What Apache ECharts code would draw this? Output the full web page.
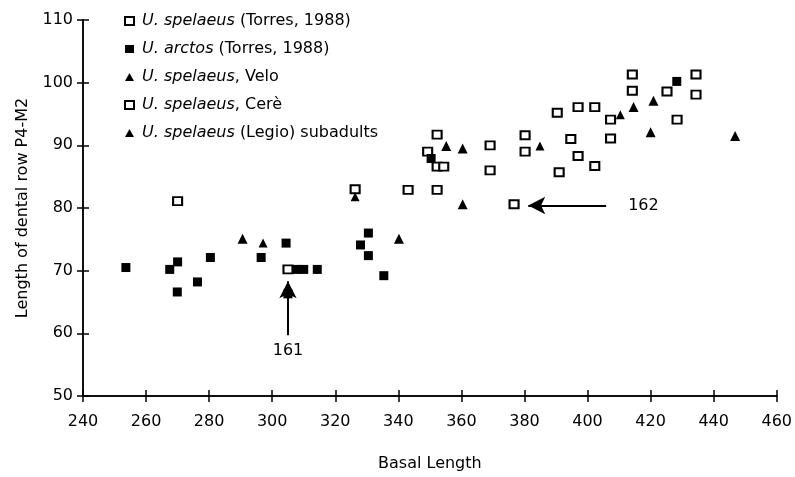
<!DOCTYPE html>
<html>
<head>
<meta charset="utf-8">
<script src="https://cdn.jsdelivr.net/npm/echarts@6/dist/echarts.min.js"></script>
<style>
  html, body { margin: 0; padding: 0; background: #fff; }
  #main { width: 795px; height: 477px; }
</style>
</head>
<body>
<div id="main"></div>
<script>
// basal length (x), length of dental row P4-M2 (y)
var spelaeusTorres = [
  [343.1, 82.9], [352.3, 82.9], [352.3, 91.7], [349.3, 89.0], [352.3, 86.6],
  [354.4, 86.6], [369.1, 90.0], [369.1, 86.0], [380.2, 91.6], [380.2, 89.0],
  [390.4, 95.2], [394.7, 91.0], [397.0, 96.1], [397.0, 88.3], [391.0, 85.7],
  [402.3, 96.1], [402.3, 86.7], [407.3, 94.1], [407.3, 91.1], [414.2, 101.3],
  [414.2, 98.7], [425.2, 98.6], [428.4, 94.1], [434.4, 101.3], [434.4, 98.1]
];
var arctosTorres = [
  [253.6, 70.5], [267.5, 70.2], [270.0, 71.4], [269.9, 66.6], [276.3, 68.2],
  [280.4, 72.1], [296.5, 72.1], [304.4, 74.4], [307.9, 70.2], [310.0, 70.2],
  [314.3, 70.2], [305.0, 66.3], [330.5, 76.0], [328.0, 74.1], [330.5, 72.4],
  [335.4, 69.2], [350.4, 87.9], [428.3, 100.2]
];
var spelaeusVelo = [
  [290.6, 75.1], [340.2, 75.1], [355.2, 89.9], [360.4, 89.5], [360.4, 80.6],
  [414.6, 96.1], [420.9, 97.1], [420.0, 92.1], [446.8, 91.5]
];
var spelaeusCere = [
  [270.0, 81.1], [305.0, 70.2], [376.7, 80.6], [326.3, 83.0]
];
var legioSubadults = [
  [297.1, 74.4], [326.3, 81.8], [384.9, 89.9], [410.4, 94.9]
];
var seriesNames = [
  'U. spelaeus (Torres, 1988)',
  'U. arctos (Torres, 1988)',
  'U. spelaeus, Velo',
  'U. spelaeus, Cerè',
  'U. spelaeus (Legio) subadults'
];
// arrows: [label, from, to]
var arrow161 = ['161', [305, 59.7], [305, 68.3]];
var arrow162 = ['162', [405.9, 80.4], [381.2, 80.4]];

var FONT = 'DejaVu Sans';
var FS = 16;
var chart = echarts.init(document.getElementById('main'));

function openStyle() {
  return { color: '#fff', borderColor: '#000', borderWidth: 2, opacity: 1 };
}
function filledStyle() {
  return { color: '#000', opacity: 1 };
}

var option = {
  animation: false,
  textStyle: { fontFamily: FONT, color: '#000' },
  grid: { left: 83, right: 16, top: 20, bottom: 79 },
  legend: {
    orient: 'vertical',
    left: 119,
    top: 8,
    itemGap: 12,
    itemWidth: 9,
    itemHeight: 8,
    data: seriesNames,
    formatter: function (name) {
      var m = name.match(/^(U\. [a-z]+)(.*)$/);
      return '{i|' + m[1] + '}' + m[2];
    },
    textStyle: {
      fontFamily: FONT, fontSize: FS, lineHeight: 16, color: '#000', padding: [0, 0, 0, 3],
      rich: { i: { fontFamily: FONT, fontSize: FS, lineHeight: 16, fontStyle: 'italic', color: '#000' } }
    }
  },
  xAxis: [{
    type: 'value', min: 240, max: 460, interval: 20,
    name: 'Basal Length', nameLocation: 'middle', nameGap: 60,
    nameTextStyle: { fontFamily: FONT, fontSize: FS, color: '#000' },
    axisLine: { lineStyle: { color: '#000', width: 1.5 } },
    axisTick: { length: 6, lineStyle: { color: '#000', width: 1.5 } },
    axisLabel: { fontFamily: FONT, fontSize: FS, color: '#000', margin: 18 },
    splitLine: { show: false }
  }, {
    type: 'value', min: 240, max: 460, interval: 20, position: 'bottom',
    axisLine: { show: true, lineStyle: { color: '#000', width: 1.5 } },
    axisTick: { inside: true, length: 6, lineStyle: { color: '#000', width: 1.5 } },
    axisLabel: { show: false },
    splitLine: { show: false }
  }],
  yAxis: [{
    type: 'value', min: 50, max: 110, interval: 10,
    name: 'Length of dental row P4-M2', nameLocation: 'middle', nameGap: 52,
    nameTextStyle: { fontFamily: FONT, fontSize: FS, color: '#000' },
    axisLine: { lineStyle: { color: '#000', width: 1.5 } },
    axisTick: { length: 6, lineStyle: { color: '#000', width: 1.5 } },
    axisLabel: { fontFamily: FONT, fontSize: FS, color: '#000', margin: 10 },
    splitLine: { show: false }
  }, {
    type: 'value', min: 50, max: 110, interval: 10, position: 'left',
    axisLine: { show: true, lineStyle: { color: '#000', width: 1.5 } },
    axisTick: { inside: true, length: 6, lineStyle: { color: '#000', width: 1.5 } },
    axisLabel: { show: false },
    splitLine: { show: false }
  }],
  series: [
    {
      name: seriesNames[0], type: 'scatter', symbol: 'rect', symbolSize: [9, 8],
      itemStyle: openStyle(), data: spelaeusTorres
    },
    {
      name: seriesNames[1], type: 'scatter', symbol: 'rect', symbolSize: 9,
      itemStyle: filledStyle(), data: arctosTorres
    },
    {
      name: seriesNames[2], type: 'scatter', symbol: 'triangle', symbolSize: 10,
      itemStyle: filledStyle(), data: spelaeusVelo
    },
    {
      name: seriesNames[3], type: 'scatter', symbol: 'rect', symbolSize: [9, 8],
      itemStyle: openStyle(), data: spelaeusCere
    },
    {
      name: seriesNames[4], type: 'scatter', symbol: 'triangle', symbolSize: 9,
      itemStyle: filledStyle(), data: legioSubadults,
      markLine: {
        silent: true,
        symbol: ['none', 'arrow'],
        symbolSize: [13, 17],
        lineStyle: { color: '#000', width: 2, type: 'solid', opacity: 1 },
        label: {
          show: true, fontFamily: FONT, fontSize: FS, color: '#000',
          formatter: function (p) { return p.name; }
        },
        data: [
          [
            { name: arrow161[0], coord: arrow161[1], label: { position: 'start', distance: 8 } },
            { coord: arrow161[2] }
          ],
          [
            { name: arrow162[0], coord: arrow162[1], label: { position: 'start', distance: 22 } },
            { coord: arrow162[2] }
          ]
        ]
      }
    }
  ]
};

chart.setOption(option);
</script>
</body>
</html>
